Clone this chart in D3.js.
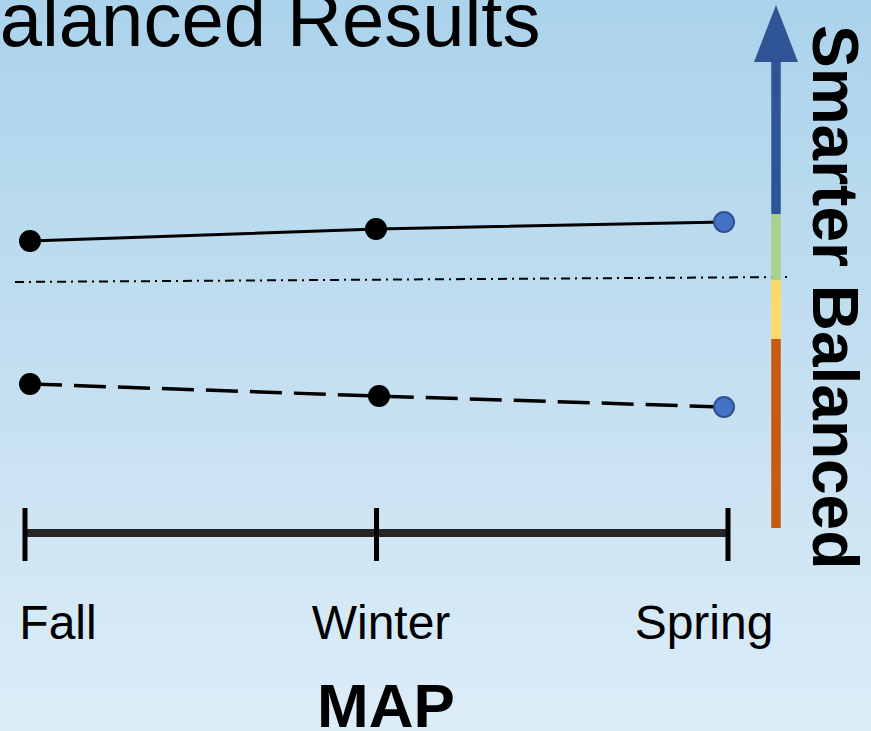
<!DOCTYPE html>
<html>
<head>
<meta charset="utf-8">
<script src="https://cdn.jsdelivr.net/npm/d3@7"></script>
<style>
  html, body { margin: 0; padding: 0; overflow: hidden; }
  svg { display: block; }
</style>
</head>
<body>
<svg id="chart" width="871" height="731"></svg>
<script>
// Test windows along the x axis
const seasons = ["Fall", "Winter", "Spring"];

// Scores on a 0-100 relative scale
const mapScores = [57.4, 59.8, 61.2];      // solid line
const sbacScores = [28.8, 26.4, 24.2];     // dashed line
const benchmark = [49.2, 50.2];            // dash-dot reference line (left, right)

// Smarter Balanced achievement bands (bottom, top) and colours
const bandLevels = [0, 37.8, 49.6, 62.8, 93.2];
const bandColors = ["#c55a11", "#ffd966", "#a9d18e", "#2f5597"];
const arrowTip = 104.6;

const svg = d3.select("#chart");
const W = 871, H = 731;

// background gradient
const defs = svg.append("defs");
const grad = defs.append("linearGradient")
  .attr("id", "bg").attr("x1", 0).attr("y1", 0).attr("x2", 0).attr("y2", 1);
grad.append("stop").attr("offset", "0%").attr("stop-color", "#abd3eb");
grad.append("stop").attr("offset", "55%").attr("stop-color", "#c6e0f1");
grad.append("stop").attr("offset", "100%").attr("stop-color", "#ddedf8");
svg.append("rect").attr("width", W).attr("height", H).attr("fill", "url(#bg)");

// scales
const x = d3.scalePoint().domain(seasons).range([25, 728]);
const xPts = d3.scalePoint().domain(seasons).range([30, 724]);
const xLabel = d3.scalePoint().domain(seasons).range([58, 704]);
const y = d3.scaleLinear().domain([0, 100]).range([528, 28]);

// title
svg.append("text")
  .attr("x", -51).attr("y", 46)
  .attr("font-family", "Liberation Sans, Arial, sans-serif")
  .attr("font-size", 76)
  .attr("fill", "#000")
  .text("Balanced Results");

// benchmark dash-dot line
svg.append("line")
  .attr("x1", 15).attr("x2", 788)
  .attr("y1", y(benchmark[0])).attr("y2", y(benchmark[1]))
  .attr("stroke", "#000").attr("stroke-width", 2)
  .attr("stroke-dasharray", "9,5,2,5");

// series lines
const line = d3.line().x((d, i) => xPts(seasons[i])).y(d => y(d));
svg.append("path").datum(mapScores)
  .attr("d", line).attr("fill", "none")
  .attr("stroke", "#000").attr("stroke-width", 3);
svg.append("path").datum(sbacScores)
  .attr("d", line).attr("fill", "none")
  .attr("stroke", "#000").attr("stroke-width", 3.5)
  .attr("stroke-dasharray", "32,12");

// points: past windows black, latest window blue
function drawPoints(data, winterShift) {
  svg.append("g").selectAll("circle").data(data).join("circle")
    .attr("cx", (d, i) => xPts(seasons[i]) + (i === 1 ? winterShift : 0))
    .attr("cy", d => y(d))
    .attr("r", (d, i) => i === 2 ? 10 : 11)
    .attr("fill", (d, i) => i === 2 ? "#4472c4" : "#000")
    .attr("stroke", (d, i) => i === 2 ? "#2f528f" : "none")
    .attr("stroke-width", 2);
}
drawPoints(mapScores, -1);
drawPoints(sbacScores, 2);

// Smarter Balanced colour bar with arrow
const barX = 776, barW = 9.5;
const bands = d3.range(bandColors.length).map(i => ({
  lo: bandLevels[i], hi: bandLevels[i + 1], color: bandColors[i]
}));
svg.append("g").selectAll("rect").data(bands).join("rect")
  .attr("x", barX - barW / 2)
  .attr("width", barW)
  .attr("y", d => y(d.hi))
  .attr("height", d => y(d.lo) - y(d.hi))
  .attr("fill", d => d.color);
svg.append("path")
  .attr("d", `M${barX - 22},${y(bandLevels[4])} L${barX},${y(arrowTip)} L${barX + 22},${y(bandLevels[4])} Z`)
  .attr("fill", "#2f5597");

// vertical axis title
svg.append("text")
  .attr("transform", "translate(813,25) rotate(90)")
  .attr("font-family", "Liberation Sans, Arial, sans-serif")
  .attr("font-size", 64)
  .attr("font-weight", "bold")
  .attr("fill", "#000")
  .text("Smarter Balanced");

// time axis
svg.append("line")
  .attr("x1", x(seasons[0])).attr("x2", x(seasons[2]))
  .attr("y1", 533).attr("y2", 533)
  .attr("stroke", "#262626").attr("stroke-width", 8);
svg.append("g").selectAll("line").data(seasons).join("line")
  .attr("x1", d => x(d)).attr("x2", d => x(d))
  .attr("y1", 508).attr("y2", 561)
  .attr("stroke", "#000").attr("stroke-width", 5);

svg.append("g").selectAll("text").data(seasons).join("text")
  .attr("x", d => xLabel(d))
  .attr("y", 639)
  .attr("text-anchor", "middle")
  .attr("font-family", "Liberation Sans, Arial, sans-serif")
  .attr("font-size", 48)
  .attr("fill", "#000")
  .text(d => d);

svg.append("text")
  .attr("x", 386).attr("y", 727)
  .attr("text-anchor", "middle")
  .attr("font-family", "Liberation Sans, Arial, sans-serif")
  .attr("font-size", 62)
  .attr("font-weight", "bold")
  .attr("fill", "#000")
  .text("MAP");
</script>
</body>
</html>
